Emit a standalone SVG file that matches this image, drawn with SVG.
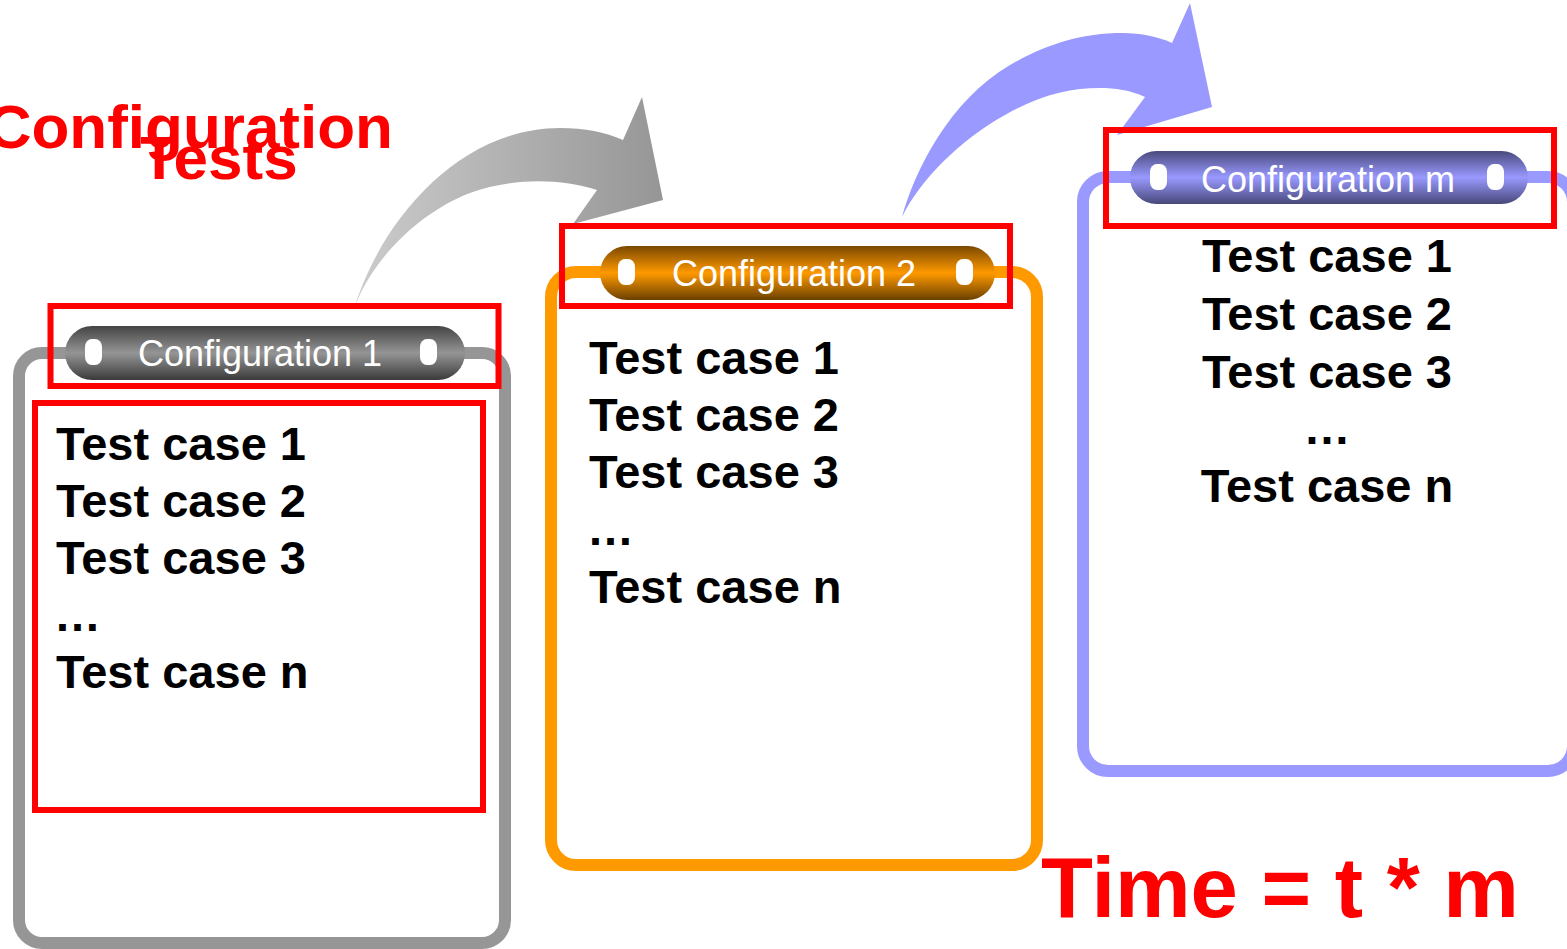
<svg xmlns="http://www.w3.org/2000/svg" width="1567" height="949" viewBox="0 0 1567 949">
  <style>
    .box { fill: #ffffff; stroke-width: 12; }
    .red { fill: none; stroke: #ff0000; stroke-width: 6; }
    .pilltext { font-family: "Liberation Sans", Arial, sans-serif; font-size: 36px; fill: #ffffff; text-anchor: middle; }
    .tc { font-family: "Liberation Sans", Arial, sans-serif; font-size: 47px; font-weight: bold; fill: #000000; }
    .title { font-family: "Liberation Sans", Arial, sans-serif; font-weight: bold; fill: #ff0000; }
    .knob { fill: #ffffff; }
  </style>
  <defs>
    <linearGradient id="gGray" x1="0" y1="0" x2="0" y2="1">
      <stop offset="0" stop-color="#444444"/>
      <stop offset="0.5" stop-color="#959595"/>
      <stop offset="1" stop-color="#3a3a3a"/>
    </linearGradient>
    <linearGradient id="gOrange" x1="0" y1="0" x2="0" y2="1">
      <stop offset="0" stop-color="#7a4800"/>
      <stop offset="0.5" stop-color="#ff9900"/>
      <stop offset="1" stop-color="#6a4000"/>
    </linearGradient>
    <linearGradient id="gBlue" x1="0" y1="0" x2="0" y2="1">
      <stop offset="0" stop-color="#4a4a7c"/>
      <stop offset="0.5" stop-color="#9999ff"/>
      <stop offset="1" stop-color="#48487a"/>
    </linearGradient>
    <linearGradient id="gArrow" x1="353" y1="0" x2="663" y2="0" gradientUnits="userSpaceOnUse">
      <stop offset="0" stop-color="#cccccc"/>
      <stop offset="1" stop-color="#969696"/>
    </linearGradient>
  </defs>

  <g id="title">
    <text class="title" x="393" y="148" font-size="62" text-anchor="end">Configuration</text>
    <text class="title" x="219" y="179" font-size="62" text-anchor="middle">Tests</text>
  </g>

  <g id="connectors">
    <path id="arrow1" fill="url(#gArrow)" d="M353,312 C380,220 460,128 560,128 C585,128 605,132 623,140 L642,97 L663,200 L573,224 L597,190 C560,178 510,178 470,193 C420,212 370,260 353,312 Z"/>
    <path id="arrow2" fill="#9999ff" d="M902,217 C915,170 950,100 1010,65 C1045,45 1080,33 1123,33 C1140,33 1160,37 1172,43 L1190,3 L1212,107 L1117,135 L1145,97 C1130,90 1115,88 1100,88 C1070,88 1040,95 1005,115 C960,140 920,180 902,217 Z"/>
  </g>

  <g id="config1">
    <rect class="box" x="19" y="353" width="486" height="590" rx="23" ry="23" stroke="#969696"/>
    <rect x="65" y="326" width="400" height="54" rx="27" ry="27" fill="url(#gGray)"/>
    <rect class="knob" x="85" y="339" width="17" height="26" rx="7" ry="8"/>
    <rect class="knob" x="420" y="339" width="17" height="26" rx="7" ry="8"/>
    <text class="pilltext" x="260" y="366">Configuration 1</text>
    <text class="tc" x="56" y="460">Test case 1</text>
    <text class="tc" x="56" y="517">Test case 2</text>
    <text class="tc" x="56" y="574">Test case 3</text>
    <text class="tc" x="54" y="631">…</text>
    <text class="tc" x="56" y="688">Test case n</text>
  </g>

  <g id="config2">
    <rect class="box" x="551" y="272" width="486" height="593" rx="25" ry="25" stroke="#ff9900"/>
    <rect x="600" y="246" width="395" height="54" rx="27" ry="27" fill="url(#gOrange)"/>
    <rect class="knob" x="618" y="259" width="17" height="26" rx="7" ry="8"/>
    <rect class="knob" x="956" y="259" width="17" height="26" rx="7" ry="8"/>
    <text class="pilltext" x="794" y="286">Configuration 2</text>
    <text class="tc" x="589" y="374">Test case 1</text>
    <text class="tc" x="589" y="431">Test case 2</text>
    <text class="tc" x="589" y="488">Test case 3</text>
    <text class="tc" x="587" y="545">…</text>
    <text class="tc" x="589" y="603">Test case n</text>
  </g>

  <g id="configm">
    <rect class="box" x="1083" y="177" width="490" height="594" rx="25" ry="25" stroke="#9999ff"/>
    <rect x="1130" y="151" width="398" height="53" rx="26.5" ry="26.5" fill="url(#gBlue)"/>
    <rect class="knob" x="1150" y="164" width="17" height="26" rx="7" ry="8"/>
    <rect class="knob" x="1487" y="164" width="17" height="26" rx="7" ry="8"/>
    <text class="pilltext" x="1328" y="192">Configuration m</text>
    <text class="tc" x="1327" y="272" text-anchor="middle">Test case 1</text>
    <text class="tc" x="1327" y="330" text-anchor="middle">Test case 2</text>
    <text class="tc" x="1327" y="388" text-anchor="middle">Test case 3</text>
    <text class="tc" x="1327" y="444" text-anchor="middle">…</text>
    <text class="tc" x="1327" y="502" text-anchor="middle">Test case n</text>
  </g>

  <g id="highlights">
    <rect class="red" x="50.5" y="306" width="448" height="80"/>
    <rect class="red" x="35" y="403" width="448" height="407"/>
    <rect class="red" x="562" y="226" width="448" height="80"/>
    <rect class="red" x="1106" y="130" width="448" height="96"/>
  </g>

  <g id="time">
    <text class="title" x="1041" y="917" font-size="85">Time = t * m</text>
  </g>
</svg>
